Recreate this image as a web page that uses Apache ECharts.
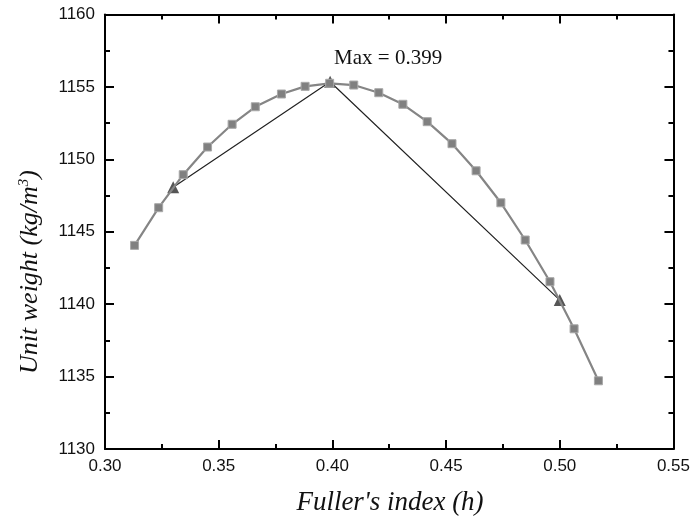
<!DOCTYPE html>
<html>
<head>
<meta charset="utf-8">
<script src="https://cdn.jsdelivr.net/npm/echarts@6/dist/echarts.min.js"></script>
<style>
html,body{margin:0;padding:0;background:#fff;}
#chart{width:693px;height:519px;}
</style>
</head>
<body>
<div id="chart"></div>
<script>
// Data
var fullerIndex = [0.3130, 0.3236, 0.3344, 0.3451, 0.3559, 0.3661, 0.3776, 0.3880, 0.3988, 0.4094,
                   0.4204, 0.4310, 0.4417, 0.4526, 0.4632, 0.4741, 0.4848, 0.4957, 0.5063, 0.5170];
var unitWeight = [1144.06, 1146.66, 1148.94, 1150.85, 1152.42, 1153.63, 1154.51, 1155.04, 1155.25, 1155.13,
                  1154.60, 1153.80, 1152.60, 1151.08, 1149.21, 1147.00, 1144.43, 1141.55, 1138.30, 1134.71];
var tangentX = [0.330, 0.399, 0.500];
var tangentY = [1148.07, 1155.36, 1140.28];
var xTicks = [0.30, 0.35, 0.40, 0.45, 0.50, 0.55];
var yTicks = [1130, 1135, 1140, 1145, 1150, 1155, 1160];

var curveData = fullerIndex.map(function (x, i) { return [x, unitWeight[i]]; });
var tangentData = tangentX.map(function (x, i) {
  var d = { value: [x, tangentY[i]] };
  if (i === 1) {
    d.label = {
      show: true,
      formatter: 'Max = ' + tangentX[1].toFixed(3),
      position: [10, -17],
      align: 'left',
      verticalAlign: 'middle',
      fontFamily: '"Liberation Serif", "Times New Roman", serif',
      fontSize: 21,
      color: '#111'
    };
  }
  return d;
});

var tickCommon = {
  axisLine: { show: true, onZero: false, lineStyle: { color: '#000', width: 2 } },
  axisTick: { show: true, inside: true, length: 9, lineStyle: { color: '#000', width: 2 } },
  minorTick: { show: true, splitNumber: 2, length: 5, lineStyle: { color: '#000', width: 2 } },
  splitLine: { show: false },
  minorSplitLine: { show: false }
};
function axis(base, extra) {
  var o = JSON.parse(JSON.stringify(tickCommon));
  for (var k in base) o[k] = base[k];
  for (var k2 in extra) o[k2] = extra[k2];
  return o;
}
var labelStyle = {
  fontFamily: '"Liberation Sans", Arial, sans-serif',
  fontSize: 17,
  color: '#111'
};

var xBase = { type: 'value', min: xTicks[0], max: xTicks[xTicks.length - 1], interval: 0.05 };
var yBase = { type: 'value', min: yTicks[0], max: yTicks[yTicks.length - 1], interval: 5 };

var chart = echarts.init(document.getElementById('chart'), null, { renderer: 'canvas' });
chart.setOption({
  animation: false,
  backgroundColor: '#fff',
  grid: { left: 105, right: 18.5, top: 14.5, bottom: 70, containLabel: false },
  xAxis: [
    axis(xBase, {
      position: 'bottom',
      axisLabel: Object.assign({ show: true, margin: 9, formatter: function (v) { return v.toFixed(2); } }, labelStyle)
    }),
    axis(xBase, { position: 'top', axisLabel: { show: false } })
  ],
  yAxis: [
    axis(yBase, {
      position: 'left',
      axisLabel: Object.assign({ show: true, margin: 10, formatter: function (v) { return String(v); } }, labelStyle)
    }),
    axis(yBase, { position: 'right', axisLabel: { show: false } })
  ],
  graphic: [
    {
      type: 'text',
      x: 390, y: 503,
      style: {
        text: "Fuller's index (h)",
        fontFamily: '"Liberation Serif", "Times New Roman", serif',
        fontStyle: 'italic',
        fontSize: 27,
        fill: '#111',
        align: 'center',
        verticalAlign: 'middle'
      }
    },
    {
      type: 'text',
      x: 30, y: 272,
      rotation: Math.PI / 2,
      style: {
        text: 'Unit weight (kg/m{sup|3})',
        fontFamily: '"Liberation Serif", "Times New Roman", serif',
        fontStyle: 'italic',
        fontSize: 26,
        fill: '#111',
        align: 'center',
        verticalAlign: 'middle',
        rich: {
          sup: {
            fontFamily: '"Liberation Serif", "Times New Roman", serif',
            fontStyle: 'italic',
            fontSize: 15,
            fill: '#111',
            verticalAlign: 'top',
            padding: [0, 0, 11, 0]
          }
        }
      }
    }
  ],
  series: [
    {
      type: 'line',
      name: 'tangent',
      xAxisIndex: 0, yAxisIndex: 0,
      data: tangentData,
      symbol: 'triangle',
      symbolSize: 12,
      lineStyle: { color: '#222', width: 1.2 },
      itemStyle: { color: '#555', borderWidth: 0 },
      z: 2
    },
    {
      type: 'line',
      name: 'unit weight',
      xAxisIndex: 0, yAxisIndex: 0,
      data: curveData,
      symbol: 'rect',
      symbolSize: 8,
      lineStyle: { color: '#858585', width: 2.2 },
      itemStyle: { color: '#808080', borderColor: '#a8a8a8', borderWidth: 1 },
      z: 3
    }
  ]
});
</script>
</body>
</html>
